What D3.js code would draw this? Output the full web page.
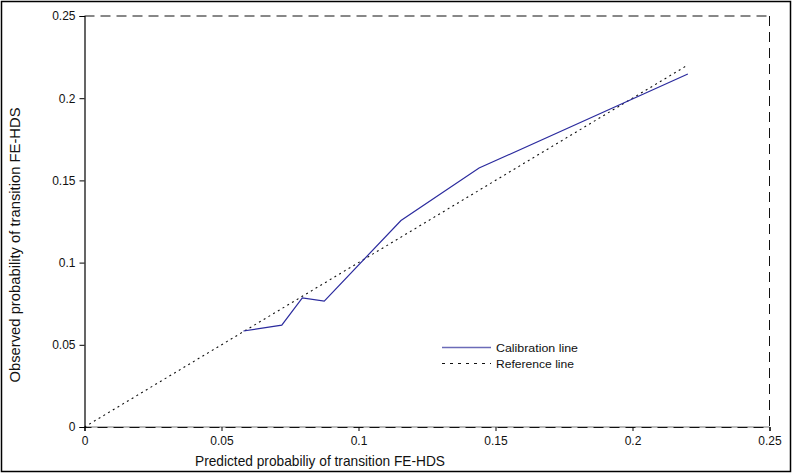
<!DOCTYPE html>
<html>
<head>
<meta charset="utf-8">
<script src="https://cdn.jsdelivr.net/npm/d3@7"></script>
<style>
  html, body { margin: 0; padding: 0; background: #fff; }
  svg { display: block; font-family: "Liberation Sans", Arial, sans-serif; }
</style>
</head>
<body>
<svg id="chart" width="792" height="474"></svg>
<script>
// Calibration of predicted vs observed transition probability (FE-HDS)
const predicted = [0.058, 0.072, 0.0795, 0.0875, 0.1155, 0.144, 0.2202];
const observed  = [0.0584, 0.062, 0.0785, 0.0766, 0.1256, 0.1575, 0.2147];
const referenceX = [0, 0.22];
const referenceY = [0, 0.22];
const tickValues = [0, 0.05, 0.1, 0.15, 0.2, 0.25];
const tickLabels = ["0", "0.05", "0.1", "0.15", "0.2", "0.25"];
const legendLabels = ["Calibration line", "Reference line"];

const svg = d3.select("#chart");
const W = 792, H = 474;
const plotLeft = 84.5, plotRight = 769.5, plotTop = 16, plotBottom = 427;

const x = d3.scaleLinear().domain([0, 0.25]).range([plotLeft, plotRight]);
const y = d3.scaleLinear().domain([0, 0.25]).range([plotBottom, plotTop]);

// outer frame
svg.append("rect")
  .attr("x", 1.5).attr("y", 1.5)
  .attr("width", W - 3).attr("height", 470)
  .attr("fill", "none").attr("stroke", "#000").attr("stroke-width", 1.5);

// solid underline for the x axis, beneath the dashes
svg.append("line")
  .attr("x1", plotLeft).attr("x2", plotRight).attr("y1", plotBottom).attr("y2", plotBottom)
  .attr("stroke", "#777").attr("stroke-width", 1.2);

// dashed plot box (top and right)
const box = svg.append("g").attr("fill", "none").attr("stroke", "#111")
  .attr("stroke-width", 1).attr("stroke-dasharray", "10,6");
box.append("line").attr("x1", plotLeft).attr("x2", plotRight).attr("y1", plotTop).attr("y2", plotTop);
box.append("line").attr("x1", plotRight).attr("x2", plotRight).attr("y1", plotTop).attr("y2", plotBottom);

// axes
const fmt = (d) => tickLabels[tickValues.indexOf(d)];
const xAxis = d3.axisBottom(x).tickValues(tickValues).tickFormat(fmt)
  .tickSize(4).tickPadding(5);
const yAxis = d3.axisLeft(y).tickValues(tickValues).tickFormat(fmt)
  .tickSize(5).tickPadding(4);

const gx = svg.append("g").attr("transform", `translate(0,${plotBottom})`).call(xAxis);
const gy = svg.append("g").attr("transform", `translate(${plotLeft},0)`).call(yAxis);
[gx, gy].forEach(g => {
  g.select(".domain").attr("stroke", "#000").attr("stroke-width", 1.2);
  g.selectAll(".tick line").attr("stroke", "#000");
  g.selectAll(".tick text").attr("fill", "#111")
    .style("font-family", "'Liberation Sans', Arial, sans-serif")
    .style("font-size", "12px");
});
gx.select(".domain").attr("stroke-dasharray", "10,6").attr("stroke", "#111");

// reference line (dotted)
const pathGen = d3.line().x(d => x(d[0])).y(d => y(d[1]));
svg.append("path")
  .datum(referenceX.map((v, i) => [v, referenceY[i]]))
  .attr("d", pathGen)
  .attr("fill", "none").attr("stroke", "#111").attr("stroke-width", 1.1)
  .attr("stroke-dasharray", "2,3.5");

// calibration line
svg.append("path")
  .datum(predicted.map((v, i) => [v, observed[i]]))
  .attr("d", pathGen)
  .attr("fill", "none").attr("stroke", "#2b2b9e").attr("stroke-width", 1.2);

// legend
const lg = svg.append("g");
lg.append("line").attr("x1", 442).attr("x2", 491).attr("y1", 347.5).attr("y2", 347.5)
  .attr("stroke", "#6b6bb8").attr("stroke-width", 1.3);
lg.append("line").attr("x1", 442).attr("x2", 491).attr("y1", 363.5).attr("y2", 363.5)
  .attr("stroke", "#111").attr("stroke-width", 1).attr("stroke-dasharray", "3,5");
legendLabels.forEach((t, i) => {
  lg.append("text").attr("x", 496).attr("y", 351.5 + i * 16)
    .attr("font-size", "11.5px").attr("fill", "#111")
    .attr("textLength", i === 0 ? 82 : 78).attr("lengthAdjust", "spacingAndGlyphs")
    .text(t);
});

// axis titles
svg.append("text")
  .attr("x", 320).attr("y", 466).attr("text-anchor", "middle")
  .attr("font-size", "15px").attr("fill", "#111")
  .attr("textLength", 250).attr("lengthAdjust", "spacingAndGlyphs")
  .text("Predicted probabiliy of transition FE-HDS");

svg.append("text")
  .attr("transform", "translate(20,245) rotate(-90)")
  .attr("text-anchor", "middle")
  .attr("font-size", "15px").attr("fill", "#111")
  .attr("textLength", 275).attr("lengthAdjust", "spacingAndGlyphs")
  .text("Observed probability of transition FE-HDS");
</script>
</body>
</html>
